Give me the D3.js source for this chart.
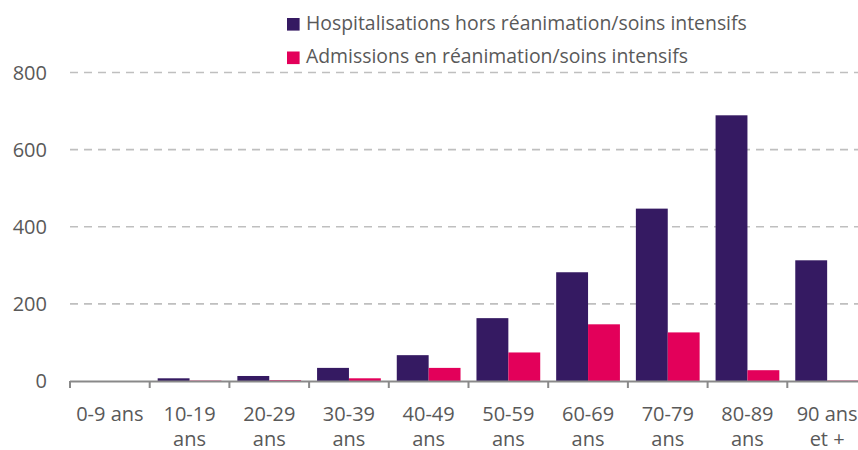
<!DOCTYPE html>
<html><head><meta charset="utf-8">
<script src="https://cdn.jsdelivr.net/npm/d3@7"></script>
<style>
html,body{margin:0;padding:0;background:#fff;overflow:hidden;}
text{font-family:"Open Sans",sans-serif;fill:#595959;}
</style></head>
<body><svg id="c" width="858" height="450"></svg>
<script>
const categories = ["0-9 ans","10-19 ans","20-29 ans","30-39 ans","40-49 ans","50-59 ans","60-69 ans","70-79 ans","80-89 ans","90 ans et +"];
const tickLabels = [["0-9 ans"],["10-19","ans"],["20-29","ans"],["30-39","ans"],["40-49","ans"],["50-59","ans"],["60-69","ans"],["70-79","ans"],["80-89","ans"],["90 ans","et +"]];
const seriesNames = ["Hospitalisations hors réanimation/soins intensifs","Admissions en réanimation/soins intensifs"];
const hospValues = [0, 7, 13, 34, 67, 163, 282, 447, 689, 313];
const icuValues  = [0, 1, 2, 7, 34, 74, 147, 126, 28, 1];
const yTicks = [0, 200, 400, 600, 800];
const colors = ["#351A62", "#E3005A"];

const svg = d3.select("#c");
const x0 = d3.scaleBand().domain(categories).range([70, 867]).paddingInner(0.2).paddingOuter(0.1);
const x1 = d3.scaleBand().domain([0,1]).range([0, x0.bandwidth()]);
const y = d3.scaleLinear().domain([0, 800]).range([381, 72.5]);

// gridlines
svg.append("g").selectAll("line").data(yTicks.filter(d=>d>0)).join("line")
  .attr("x1", 70).attr("x2", 858).attr("y1", d=>y(d)).attr("y2", d=>y(d))
  .attr("stroke", "#BFBFBF").attr("stroke-width", 1.6).attr("stroke-dasharray", "8,6");

// y labels
svg.append("g").selectAll("text").data(yTicks).join("text")
  .attr("x", 47).attr("y", d=>y(d)).attr("dy", "0.36em").attr("text-anchor","end")
  .style("font-size","20px").text(d=>d);

// bars
const series = [hospValues, icuValues];
series.forEach((vals, si) => {
  svg.append("g").selectAll("rect").data(vals).join("rect")
    .attr("x", (d,i)=>x0(categories[i]) + x1(si))
    .attr("width", x1.bandwidth())
    .attr("y", d=>y(d)).attr("height", d=>y(0)-y(d))
    .attr("fill", colors[si]);
});

// x axis
const step = x0.step();
const ax = svg.append("g");
ax.append("line").attr("x1", 70).attr("x2", 867).attr("y1", y(0)+0.5).attr("y2", y(0)+0.5)
  .attr("stroke", "#898989").attr("stroke-width", 2);
ax.selectAll("line.t").data(d3.range(categories.length+1)).join("line").attr("class","t")
  .attr("x1", i=>70+i*step).attr("x2", i=>70+i*step).attr("y1", y(0)).attr("y2", y(0)+7)
  .attr("stroke", "#898989").attr("stroke-width", 2);

const lab = svg.append("g").selectAll("text").data(categories).join("text")
  .attr("text-anchor","middle").style("font-size","20px")
  .attr("x", d=>x0(d)+x0.bandwidth()/2).attr("y", 421);
lab.each(function(d,i){
  const t = d3.select(this);
  tickLabels[i].forEach((line, li) => {
    t.append("tspan").attr("x", x0(d)+x0.bandwidth()/2).attr("y", 421 + li*25).text(line);
  });
});

// legend
const leg = svg.append("g").selectAll("g").data(seriesNames).join("g")
  .attr("transform", (d,i)=>`translate(287,${18 + i*33.5})`);
leg.append("rect").attr("width", 12.6).attr("height", 12.6).attr("fill", (d,i)=>colors[i]);
leg.append("text").attr("x", 19).attr("y", 11.8).style("font-size","19.4px").text(d=>d);
</script></body></html>
